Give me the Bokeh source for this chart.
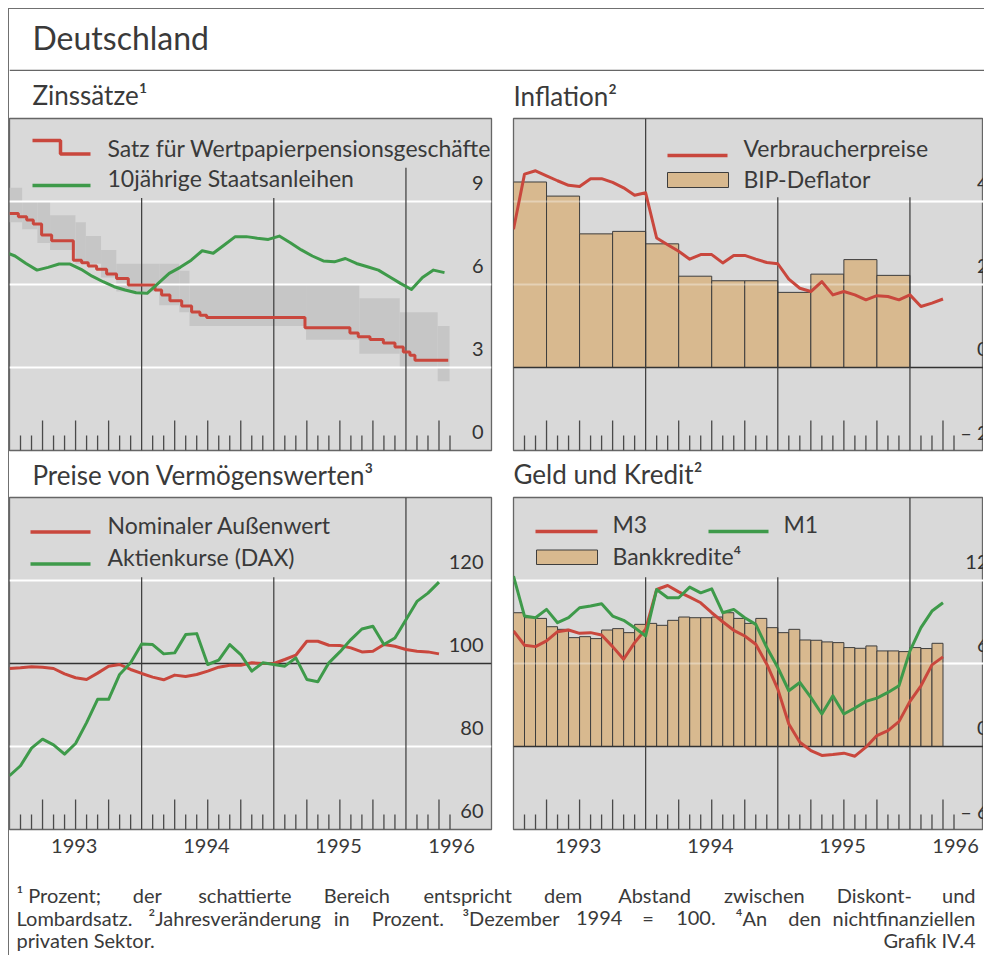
from bokeh.plotting import figure
from bokeh.models import Range1d, LinearAxis, FixedTicker, CustomJSTickFormatter
from bokeh.layouts import column, row
from bokeh.core.properties import value
from bokeh.embed import file_html
from bokeh.resources import INLINE

FONT = "Lato"
TXT = "#3a3a3a"
RED = "#c9473d"
GREEN = "#3e9a4a"
TAN = "#d8b98f"
BG = "#d9d9d9"
BAND = "#c6c6c6"
FRAME = "#666666"
TB = 0.41   # baseline compensation (fraction of font size)

# ------------------------------------------------------------------ data
# Zinssaetze (percent)
repo_dates = [1993.0, 1993.067, 1993.130, 1993.180, 1993.243, 1993.319, 1993.483, 1993.546,
              1993.596, 1993.659, 1993.735, 1993.810, 1993.899, 1994.101, 1994.151, 1994.214,
              1994.303, 1994.378, 1994.441, 1994.492, 1995.236, 1995.576, 1995.639, 1995.728,
              1995.829, 1995.917, 1995.980, 1996.030, 1996.068, 1996.320]
repo_rates = [8.57, 8.45, 8.33, 8.19, 7.79, 7.58, 6.88, 6.79, 6.67, 6.55, 6.38, 6.22, 5.98,
              5.80, 5.62, 5.41, 5.22, 5.01, 4.89, 4.81, 4.44, 4.25, 4.11, 4.01, 3.89, 3.74,
              3.56, 3.44, 3.26, 3.26]
band_start = [1993.0, 1993.096, 1993.211, 1993.307, 1993.499, 1993.578, 1993.693, 1993.808,
              1994.133, 1994.285, 1994.362, 1995.244, 1995.647, 1995.953, 1996.240]
band_end = [1993.096, 1993.211, 1993.307, 1993.499, 1993.578, 1993.693, 1993.808, 1994.133,
            1994.285, 1994.362, 1995.244, 1995.647, 1995.953, 1996.240, 1996.330]
discount_rate = [8.25, 8.0, 7.5, 7.25, 6.75, 6.75, 6.25, 5.75, 5.25, 5.0, 4.5, 4.0, 3.5, 3.0, 2.5]
lombard_rate = [9.5, 9.0, 9.0, 8.5, 8.25, 7.75, 7.25, 6.75, 6.75, 6.5, 6.0, 6.0, 5.5, 5.0, 4.5]
# monthly averages Dec 1992 .. Apr 1996 (plotted mid-month)
bond_yield = [7.19, 7.03, 6.76, 6.52, 6.62, 6.74, 6.74, 6.55, 6.30, 6.10, 5.92, 5.80, 5.70,
              5.68, 6.04, 6.40, 6.62, 6.88, 7.22, 7.13, 7.43, 7.73, 7.73, 7.67, 7.63,
              7.75, 7.51, 7.25, 7.03, 6.85, 6.82, 6.94, 6.76, 6.64, 6.52, 6.28, 6.04,
              5.82, 6.25, 6.52, 6.43]

# Inflation: consumer prices, month-end Dec 1992 .. Mar 1996
cpi = [3.33, 4.66, 4.74, 4.62, 4.50, 4.39, 4.36, 4.55, 4.55, 4.46, 4.33, 4.15, 4.21,
       3.12, 2.96, 2.80, 2.61, 2.72, 2.72, 2.52, 2.70, 2.70, 2.61, 2.53, 2.50,
       2.13, 1.91, 1.83, 2.07, 1.75, 1.83, 1.75, 1.63, 1.73, 1.71, 1.63, 1.75,
       1.47, 1.55, 1.65]
# GDP deflator, quarters 1993 Q1 .. 1995 Q4
deflator = [4.47, 4.13, 3.22, 3.28, 2.98, 2.20, 2.09, 2.09, 1.81, 2.25, 2.60, 2.22]

# Asset prices (Dec 1994 = 100), month-end Dec 1992 .. Mar 1996
neer = [98.8, 98.96, 99.2, 99.12, 98.8, 97.52, 96.56, 96.16, 97.68, 99.36, 99.76, 98.56,
        97.6, 96.72, 96.08, 97.2, 96.88, 97.36, 98.16, 99.12, 99.6, 99.6, 100.16, 100.0,
        100.0, 100.96, 102.0, 105.36, 105.36, 104.4, 104.32, 103.76, 102.8, 102.96,
        104.56, 104.16, 103.36, 102.96, 102.8, 102.32]
dax = [72.96, 75.36, 79.6, 81.76, 80.4, 78.16, 80.72, 85.76, 91.36, 91.36, 97.36, 100.16,
       104.72, 104.56, 102.32, 102.56, 106.96, 107.2, 99.76, 100.8, 104.56, 102.16, 98.16,
       100.16, 99.76, 99.36, 101.36, 96.16, 95.6, 100.16, 102.8, 105.76, 108.32, 108.96,
       104.56, 106.16, 110.56, 114.96, 116.96, 119.6]

# Money and credit, month-end Dec 1992 .. Mar 1996
m3 = [8.35, 7.32, 7.22, 7.63, 8.30, 8.42, 8.18, 8.23, 8.06, 7.22, 6.31, 7.51, 8.47,
      11.35, 11.64, 11.18, 10.80, 10.39, 9.67, 9.02, 8.40, 7.99, 7.39, 5.95, 4.15,
      1.63, 0.31, -0.29, -0.65, -0.58, -0.48, -0.70, -0.05, 0.79, 1.15, 1.80, 3.26,
      4.39, 5.90, 6.48]
m1 = [12.31, 9.43, 9.31, 9.91, 8.95, 9.31, 10.03, 10.15, 10.32, 9.43, 9.12, 8.59, 7.99,
      11.35, 10.75, 10.75, 11.52, 11.11, 11.40, 9.67, 9.91, 9.31, 8.83, 7.15, 5.71,
      4.03, 4.63, 3.55, 2.35, 3.67, 2.35, 2.78, 3.26, 3.50, 3.91, 4.39, 6.91, 8.59,
      9.79, 10.39]
# bank credit, monthly Jan 1993 .. Mar 1996
bank_credit = [9.67, 9.31, 9.26, 8.66, 8.47, 7.87, 7.94, 7.80, 8.42, 8.52, 8.23, 8.83,
               8.90, 8.76, 9.12, 9.36, 9.31, 9.31, 9.36, 9.67, 9.26, 8.90, 9.26, 8.59,
               8.23, 8.47, 7.70, 7.68, 7.56, 7.51, 7.15, 7.10, 7.27, 6.91, 6.91, 6.86,
               7.15, 7.08, 7.46]

year_label_x = [1993.49, 1994.49, 1995.49, 1996.345]

footnote_lines = [
    "¹ Prozent; der schattierte Bereich entspricht dem Abstand zwischen Diskont- und",
    "Lombardsatz. ²Jahresveränderung in Prozent. ³Dezember 1994 = 100. ⁴An den nichtfinanziellen",
]
footnote_last = ("privaten Sektor.", "Grafik IV.4")

# dates
month_end = [1993.0 + k / 12.0 for k in range(40)]          # Dec92 .. Mar96 (end of month)
bond_x = [1993.0 + (i - 0.5) / 12.0 for i in range(41)]     # Dec92 .. Apr96 (mid month)
credit_x = [1993.0 + (k + 0.5) / 12.0 for k in range(39)]   # Jan93 .. Mar96
deflator_x = [1993.125 + 0.25 * q for q in range(12)]

# ------------------------------------------------------------------ geometry
PX_YR = 132.15
FRAME_H = 332

# rough advance widths of Lato (em) for justifying the footnotes
CW = {" ": 0.193, "a": 0.507, "b": 0.563, "c": 0.466, "d": 0.563, "e": 0.527, "f": 0.323,
      "g": 0.506, "h": 0.563, "i": 0.240, "j": 0.240, "k": 0.514, "l": 0.240, "m": 0.840,
      "n": 0.563, "o": 0.563, "p": 0.560, "r": 0.370, "s": 0.430, "t": 0.355, "u": 0.563,
      "v": 0.510, "w": 0.770, "z": 0.450, "ä": 0.507, "ö": 0.563, "ü": 0.563, "L": 0.490,
      "J": 0.390, "P": 0.580, "D": 0.700, "A": 0.660, "B": 0.620, "S": 0.510, ".": 0.220,
      ";": 0.240, "-": 0.350, "=": 0.580, "¹": 0.36, "²": 0.36, "³": 0.36, "⁴": 0.36}


def est_width(s, size):
    return 0.93 * size * sum(CW.get(ch, 0.58) for ch in s)


def pixfig(w, h, y0, x0=9):
    f = figure(width=w, height=h, x_range=Range1d(x0, x0 + w), y_range=Range1d(y0 + h, y0),
               x_axis_type=None, y_axis_type=None, toolbar_location=None,
               output_backend="svg", min_border=0, outline_line_color=None,
               background_fill_color="white", border_fill_color="white")
    return f


def ptext(f, x, y, s, size, align="left", color=TXT):
    f.text(x=[x], y=[y - TB * size], text=[s], text_font=value(FONT),
           text_font_size="%dpx" % size, text_color=color, text_align=align,
           text_baseline="alphabetic")


def justified(f, line, x0, x1, y, size, keep=("¹",)):
    words = line.split(" ")
    # keep a leading superscript marker together with its word
    merged = []
    for w in words:
        if merged and merged[-1] in keep:
            merged[-1] = merged[-1] + " " + w
        else:
            merged.append(w)
    widths = [est_width(w, size) for w in merged]
    gap = (x1 - x0 - sum(widths)) / (len(merged) - 1)
    x = x0
    for i, w in enumerate(merged):
        if i == len(merged) - 1:
            ptext(f, x1, y, w, size, align="right")
        else:
            ptext(f, x, y, w, size)
        x += widths[i] + gap


class Panel:
    def __init__(self, width, left_px, frame_w, top_px, ymin, ymax, bottom_border, border_right):
        self.left_px = left_px
        self.top_px = top_px
        self.ymin, self.ymax = ymin, ymax
        self.ppu = FRAME_H / (ymax - ymin)
        x_end = 1993.0 + frame_w / PX_YR
        self.p = figure(width=width, height=FRAME_H + 1 + bottom_border,
                        x_range=Range1d(1993.0, x_end), y_range=Range1d(ymin, ymax),
                        x_axis_type=None, y_axis_type=None, toolbar_location=None,
                        output_backend="svg",
                        min_border_left=left_px - (9 if left_px < 500 else 500),
                        min_border_right=border_right, min_border_top=1,
                        min_border_bottom=bottom_border,
                        background_fill_color=BG, border_fill_color="white",
                        outline_line_color=FRAME, outline_line_width=1.3)

    def X(self, px):
        return 1993.0 + (px - self.left_px) / PX_YR

    def Y(self, py):
        return self.ymax - (py - self.top_px) / self.ppu

    def grid(self, ticks, alpha=1.0):
        self.p.hspan(y=ticks, line_color="white", line_width=2, line_alpha=alpha)

    def zero(self, v):
        self.p.hspan(y=[v], line_color="#333333", line_width=1.3)

    def years(self, tops):
        self.p.segment(x0=[1994.0, 1995.0, 1996.0], y0=[self.ymin] * 3,
                       x1=[1994.0, 1995.0, 1996.0], y1=tops,
                       line_color="#3a3a3a", line_width=1.2)

    def ticks(self):
        xs, ys1 = [], []
        for m in range(1, 41):
            if m % 12 == 0:
                continue
            h = 30 if m % 3 == 0 else 15
            xs.append(1993.0 + m / 12.0)
            ys1.append(self.ymin + h / self.ppu)
        self.p.segment(x0=xs, y0=[self.ymin] * len(xs), x1=xs, y1=ys1,
                       line_color="#4a4a4a", line_width=1.3)

    def ylabels(self, ticks, labels, right_px, anchor_px, size=20):
        xs = [self.X(anchor_px)] * len(ticks)
        ys = [t + (10.0 + TB * size) / self.ppu for t in ticks]
        self.p.text(x=xs, y=ys, text=labels, text_font=value(FONT),
                    text_font_size="%dpx" % size, text_color="#333333",
                    text_align="right", text_baseline="alphabetic",
                    x_offset=right_px - anchor_px)

    def legend_line(self, x0, x1, y, color):
        self.p.line(x=[self.X(x0), self.X(x1)], y=[self.Y(y), self.Y(y)],
                    line_color=color, line_width=3.5)

    def legend_box(self, x0, x1, y0, y1):
        self.p.quad(left=[self.X(x0)], right=[self.X(x1)], top=[self.Y(y0)],
                    bottom=[self.Y(y1)], fill_color=TAN, line_color="#3d3d3d", line_width=1)

    def legend_text(self, x, y, s, size=23):
        self.p.text(x=[self.X(x)], y=[self.Y(y - TB * size)], text=[s], text_font=value(FONT),
                    text_font_size="%dpx" % size, text_color=TXT, text_baseline="alphabetic")


def year_axis(p):
    ax = LinearAxis(ticker=FixedTicker(ticks=year_label_x),
                    formatter=CustomJSTickFormatter(code="return String(Math.floor(tick));"),
                    axis_line_color=None, major_tick_line_color=None,
                    minor_tick_line_color=None, major_label_text_font=FONT,
                    major_label_text_font_size="20px", major_label_text_color=TXT,
                    major_label_standoff=3)
    p.add_layout(ax, "below")


# ------------------------------------------------------------------ header & titles
header = pixfig(975, 62, 9)
header.segment(x0=[9], y0=[70], x1=[984], y1=[70], line_color=FRAME, line_width=1.3)
ptext(header, 32, 50, "Deutschland", 32)

titles1 = pixfig(975, 46, 71)
ptext(titles1, 32, 105, "Zinssätze¹", 26)
ptext(titles1, 513, 106, "Inflation²", 26)

titles2 = pixfig(975, 44, 452)
ptext(titles2, 32, 485, "Preise von Vermögenswerten³", 26)
ptext(titles2, 513, 484, "Geld und Kredit²", 26)

# ------------------------------------------------------------------ panel 1: Zinssaetze
P1 = Panel(491, 9, 482, 118, 0, 12, 2, 9)
p1 = P1.p
p1.quad(left=band_start, right=band_end, bottom=discount_rate, top=lombard_rate,
        fill_color=BAND, line_color=None)
P1.grid([3, 6, 9])
P1.years([9.13, 9.13, 10.22])
p1.step(x=repo_dates, y=repo_rates, mode="after", line_color=RED, line_width=3)
p1.line(x=bond_x, y=bond_yield, line_color=GREEN, line_width=3, line_join="round")
P1.ticks()
P1.ylabels([0, 3, 6, 9], ["0", "3", "6", "9"], 483, 483)
p1.line(x=[P1.X(32), P1.X(60), P1.X(60), P1.X(90)],
        y=[P1.Y(140), P1.Y(140), P1.Y(153.5), P1.Y(153.5)], line_color=RED, line_width=3.5)
P1.legend_text(107, 156.5, "Satz für Wertpapierpensionsgeschäfte")
P1.legend_line(32, 90, 185, GREEN)
P1.legend_text(107, 187, "10jährige Staatsanleihen")

# ------------------------------------------------------------------ panel 2: Inflation
P2 = Panel(483, 513, 470, 118, -2, 6, 2, 0)
p2 = P2.p
P2.grid([2, 4])
p2.vbar(x=deflator_x, width=0.25, top=deflator, bottom=0, fill_color=TAN,
        line_color="#3d3d3d", line_width=1)
P2.grid([2, 4], alpha=0.35)
P2.zero(0)
P2.years([6.0, 4.1, 4.1])
p2.line(x=month_end, y=cpi, line_color=RED, line_width=3, line_join="round")
P2.ticks()
P2.ylabels([-2, 0, 2, 4], ["\u2013 2", "0", "2", "4"], 988, 981)
P2.legend_line(667, 727, 155, RED)
P2.legend_text(743, 157, "Verbraucherpreise")
P2.legend_box(667, 728, 172, 187)
P2.legend_text(743, 187.5, "BIP-Deflator")

# ------------------------------------------------------------------ panel 3: Vermoegenspreise
P3 = Panel(491, 9, 482, 497, 60, 140, 33, 9)
p3 = P3.p
P3.grid([80, 120])
P3.zero(100)
P3.years([120.8, 120.8, 140])
p3.line(x=month_end, y=neer, line_color=RED, line_width=3, line_join="round")
p3.line(x=month_end, y=dax, line_color=GREEN, line_width=3, line_join="round")
P3.ticks()
P3.ylabels([60, 80, 100, 120], ["60", "80", "100", "120"], 483, 483)
P3.legend_line(30, 90, 531.5, RED)
P3.legend_text(107, 533.5, "Nominaler Außenwert")
P3.legend_line(30, 90, 563.5, GREEN)
P3.legend_text(107, 565.5, "Aktienkurse (DAX)")
year_axis(p3)

# ------------------------------------------------------------------ panel 4: Geld und Kredit
P4 = Panel(483, 513, 470, 497, -6, 18, 33, 0)
p4 = P4.p
P4.grid([6, 12])
p4.vbar(x=credit_x, width=1 / 12.0, top=bank_credit, bottom=0, fill_color=TAN,
        line_color="#3d3d3d", line_width=1)
P4.grid([6], alpha=0.35)
P4.zero(0)
P4.years([12.24, 12.24, 18])
p4.line(x=month_end, y=m3, line_color=RED, line_width=3, line_join="round")
p4.line(x=month_end, y=m1, line_color=GREEN, line_width=3, line_join="round")
P4.ticks()
P4.ylabels([-6, 0, 6, 12], ["\u2013 6", "0", "6", "12"], 988, 981)
P4.legend_line(535, 597, 531, RED)
P4.legend_text(612, 533, "M3")
P4.legend_line(708, 768, 531, GREEN)
P4.legend_text(783, 533, "M1")
P4.legend_box(536, 597, 549.5, 564)
P4.legend_text(612, 564.5, "Bankkredite⁴")
year_axis(p4)

# ------------------------------------------------------------------ footnotes (justified)
footer = pixfig(975, 93, 862)
FN = 20
justified(footer, footnote_lines[0], 16, 975, 903, FN)
justified(footer, footnote_lines[1], 16, 975, 926, FN)
ptext(footer, 16, 948, footnote_last[0], FN)
ptext(footer, 975, 948, footnote_last[1], FN, align="right")

layout = column(header, titles1, row(p1, p2), titles2, row(p3, p4), footer,
                styles={"margin-left": "8px", "margin-top": "8px",
                        "border-left": "1px solid #707070", "border-top": "1px solid #707070"})

open("out.html", "w").write(file_html(layout, INLINE))
